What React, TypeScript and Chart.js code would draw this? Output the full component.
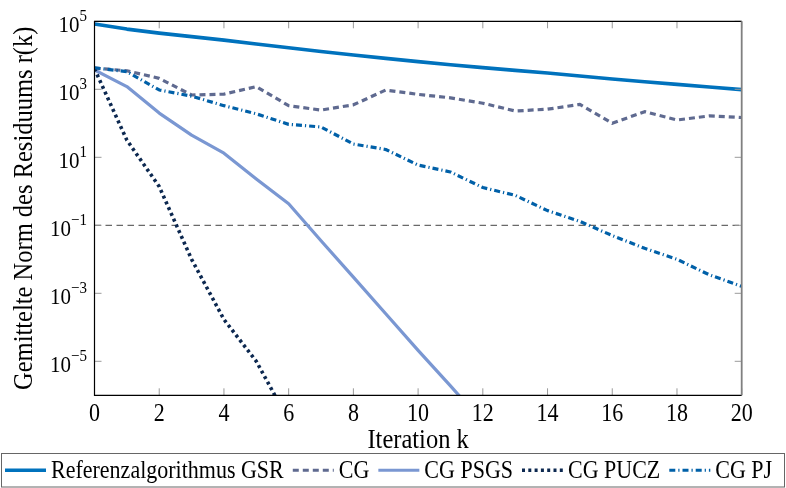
import React, { useEffect, useRef } from 'react';
import { Chart, registerables } from 'chart.js';

Chart.register(...registerables);

const ITERATIONS = [0, 1, 2, 3, 4, 5, 6, 7, 8, 9, 10, 11, 12, 13, 14, 15, 16, 17, 18, 19, 20];

const GSR = [83000, 59000, 45000, 35500, 28000, 21400, 16600, 12900, 10200, 8100, 6500, 5250, 4350, 3600, 3000, 2450, 2000, 1660, 1400, 1170, 980];
const CG = [4200, 3500, 2100, 680, 720, 1200, 330, 245, 350, 950, 710, 560, 390, 230, 260, 360, 100, 220, 125, 165, 148];
const CG_PSGS = [3700, 1200, 200, 45, 13.2, 2.3, 0.43, 0.035, 0.003, 2.5e-4, 2.1e-5, 1.9e-6, 1.6e-7];
const CG_PUCZ = [4000, 32, 1.38, 0.01, 1.7e-4, 1e-5, 1.8e-7];
const CG_PJ = [4300, 3300, 955, 630, 330, 190, 93, 78, 24.5, 17, 5.9, 3.7, 1.29, 0.76, 0.27, 0.13, 0.05, 0.021, 0.01, 0.0035, 0.0016];

const X_TICKS = [0, 2, 4, 6, 8, 10, 12, 14, 16, 18, 20];
const Y_TICK_EXPONENTS = [5, 3, 1, -1, -3, -5];
const REFERENCE_LEVEL = 0.1;

const SERIES_NAMES = ['Referenzalgorithmus GSR', 'CG', 'CG PSGS', 'CG PUCZ', 'CG PJ'];
const X_TITLE = 'Iteration k';
const Y_TITLE = 'Gemittelte Norm des Residuums r(k)';

const FONT = '"Liberation Serif", "DejaVu Serif", serif';
const SY = 1.1;

const STYLES = [
  { color: '#0072BD', dash: [] as number[], width: 3.6 },
  { color: '#5F6A90', dash: [6, 4], width: 3.2 },
  { color: '#7A97D2', dash: [] as number[], width: 3.2 },
  { color: '#0C2850', dash: [3, 3.3], width: 3.6 },
  { color: '#0060A8', dash: [6, 3, 1.2, 3], width: 3.2 },
];

function toPoints(values: (number | null)[]) {
  return values.map((v, i) => ({ x: ITERATIONS[i], y: v }));
}

function stretchText(ctx: CanvasRenderingContext2D, text: string, x: number, y: number, rot = 0) {
  ctx.save();
  ctx.translate(x, y);
  if (rot) ctx.rotate(rot);
  ctx.scale(1, SY);
  ctx.fillText(text, 0, 0);
  ctx.restore();
}

const decorPlugin = {
  id: 'decor',
  beforeDatasetsDraw(chart: any) {
    const { ctx, chartArea, scales } = chart;
    const y = scales.y.getPixelForValue(REFERENCE_LEVEL);
    ctx.save();
    ctx.strokeStyle = '#444';
    ctx.lineWidth = 1;
    ctx.setLineDash([6.5, 4.5]);
    ctx.beginPath();
    ctx.moveTo(chartArea.left, y);
    ctx.lineTo(chartArea.right, y);
    ctx.stroke();
    ctx.restore();
  },
  afterDraw(chart: any) {
    const { ctx, chartArea, scales } = chart;
    const { left, right, top, bottom } = chartArea;
    const tl = 7;
    ctx.save();
    // tick marks
    ctx.strokeStyle = '#9a9a9a';
    ctx.lineWidth = 1;
    ctx.setLineDash([]);
    ctx.beginPath();
    X_TICKS.forEach((t) => {
      const x = scales.x.getPixelForValue(t);
      ctx.moveTo(x, bottom);
      ctx.lineTo(x, bottom - tl);
      ctx.moveTo(x, top);
      ctx.lineTo(x, top + tl);
    });
    Y_TICK_EXPONENTS.forEach((e) => {
      const y = scales.y.getPixelForValue(Math.pow(10, e));
      ctx.moveTo(left, y);
      ctx.lineTo(left + tl, y);
      ctx.moveTo(right, y);
      ctx.lineTo(right - tl, y);
    });
    ctx.stroke();
    // frame
    ctx.strokeStyle = '#000';
    ctx.lineWidth = 1.2;
    ctx.beginPath();
    ctx.moveTo(right, top);
    ctx.lineTo(left, top);
    ctx.lineTo(left, bottom);
    ctx.lineTo(right, bottom);
    ctx.stroke();
    ctx.strokeStyle = '#808080';
    ctx.lineWidth = 1.8;
    ctx.beginPath();
    ctx.moveTo(right, top);
    ctx.lineTo(right, bottom);
    ctx.stroke();

    // x tick labels
    ctx.fillStyle = '#000';
    ctx.font = `22px ${FONT}`;
    ctx.textAlign = 'center';
    ctx.textBaseline = 'alphabetic';
    X_TICKS.forEach((t) => {
      const x = scales.x.getPixelForValue(t);
      stretchText(ctx, String(t), x, bottom + 26);
    });

    // y tick labels with superscripts
    Y_TICK_EXPONENTS.forEach((e) => {
      const y = scales.y.getPixelForValue(Math.pow(10, e));
      const sup = e < 0 ? '\u2212' + Math.abs(e) : String(e);
      ctx.font = `15px ${FONT}`;
      const supW = ctx.measureText(sup).width;
      ctx.font = `21px ${FONT}`;
      const baseW = ctx.measureText('10').width;
      const rightX = 87;
      ctx.textAlign = 'left';
      stretchText(ctx, '10', rightX - supW - baseW, y + 11);
      ctx.font = `15px ${FONT}`;
      stretchText(ctx, sup, rightX - supW, y);
    });

    // axis titles
    ctx.font = `24.5px ${FONT}`;
    ctx.textAlign = 'center';
    stretchText(ctx, X_TITLE, (left + right) / 2, bottom + 53);
    stretchText(ctx, Y_TITLE, 32, (top + bottom) / 2, -Math.PI / 2);

    // legend
    const boxL = 1.5, boxT = 453.5, boxR = 784.5, boxB = 487;
    ctx.strokeStyle = '#666';
    ctx.lineWidth = 1;
    ctx.strokeRect(boxL, boxT, boxR - boxL, boxB - boxT);
    const cy = (boxT + boxB) / 2;
    ctx.font = `22px ${FONT}`;
    ctx.textAlign = 'left';
    ctx.textBaseline = 'middle';
    let x = 5;
    const sampleLen = 41;
    SERIES_NAMES.forEach((name, i) => {
      const s = STYLES[i];
      ctx.strokeStyle = s.color;
      ctx.lineWidth = s.width;
      ctx.setLineDash(s.dash);
      ctx.beginPath();
      ctx.moveTo(x, cy);
      ctx.lineTo(x + sampleLen, cy);
      ctx.stroke();
      ctx.setLineDash([]);
      x += sampleLen + 5;
      ctx.fillStyle = '#000';
      stretchText(ctx, name, x, cy + 1);
      x += ctx.measureText(name).width + 9;
    });
    ctx.restore();
  },
};

export default function App() {
  const canvasRef = useRef<HTMLCanvasElement | null>(null);

  useEffect(() => {
    document.body.style.margin = '0';
    const canvas = canvasRef.current;
    if (!canvas) return;
    const seriesData = [GSR, CG, CG_PSGS, CG_PUCZ, CG_PJ];
    const chart = new Chart(canvas, {
      type: 'line',
      data: {
        datasets: seriesData.map((vals, i) => ({
          label: SERIES_NAMES[i],
          data: toPoints(vals),
          borderColor: STYLES[i].color,
          backgroundColor: STYLES[i].color,
          borderWidth: STYLES[i].width,
          borderDash: STYLES[i].dash,
          borderCapStyle: 'butt',
          borderJoinStyle: 'round',
          pointRadius: 0,
          tension: 0,
          fill: false,
          order: 5 - i,
        })),
      },
      options: {
        responsive: false,
        animation: false,
        events: [],
        layout: { padding: { top: 21.3, right: 44.3, left: 0, bottom: 0 } },
        plugins: { legend: { display: false }, tooltip: { enabled: false } },
        scales: {
          x: {
            type: 'linear',
            min: 0,
            max: 20,
            ticks: { display: false, stepSize: 2 },
            grid: { display: false },
            border: { display: false },
            afterFit: (s: any) => { s.height = 92.7; },
          },
          y: {
            type: 'logarithmic',
            min: 1e-6,
            max: 1e5,
            ticks: { display: false },
            grid: { display: false },
            border: { display: false },
            afterFit: (s: any) => { s.width = 94.5; },
          },
        },
      },
      plugins: [decorPlugin],
    } as any);
    return () => chart.destroy();
  }, []);

  return (
    <div style={{ width: 786, height: 488 }}>
      <canvas ref={canvasRef} width={786} height={488} style={{ display: 'block' }} />
    </div>
  );
}
